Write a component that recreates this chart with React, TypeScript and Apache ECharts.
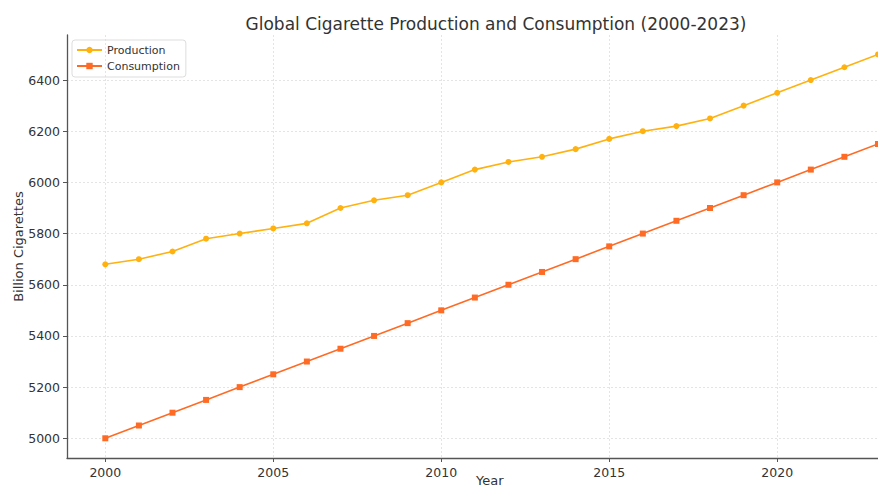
import React, { useEffect, useRef } from "react";
import * as echarts from "echarts";

const years = [2000, 2001, 2002, 2003, 2004, 2005, 2006, 2007, 2008, 2009, 2010, 2011, 2012, 2013, 2014, 2015, 2016, 2017, 2018, 2019, 2020, 2021, 2022, 2023];
const production = [5680, 5700, 5730, 5780, 5800, 5820, 5840, 5900, 5930, 5950, 6000, 6050, 6080, 6100, 6130, 6170, 6200, 6220, 6250, 6300, 6350, 6400, 6450, 6500];
const consumption = [5000, 5050, 5100, 5150, 5200, 5250, 5300, 5350, 5400, 5450, 5500, 5550, 5600, 5650, 5700, 5750, 5800, 5850, 5900, 5950, 6000, 6050, 6100, 6150];
const xTicks = [2000, 2005, 2010, 2015, 2020];
const yTicks = [5000, 5200, 5400, 5600, 5800, 6000, 6200, 6400];

const FONT = "DejaVu Sans";

export default function App() {
  const ref = useRef<HTMLDivElement>(null);
  useEffect(() => {
    document.body.style.margin = "0";
    const chart = echarts.init(ref.current!, null, { renderer: "svg" });
    chart.setOption({
      animation: false,
      textStyle: { fontFamily: FONT },
      title: {
        text: "Global Cigarette Production and Consumption (2000-2023)",
        left: 491,
        top: 10,
        textAlign: "center",
        textStyle: { fontFamily: FONT, fontSize: 17, fontWeight: "normal", color: "#333" },
      },
      legend: {
        left: 72,
        top: 40,
        orient: "vertical",
        itemGap: 4,
        itemWidth: 25,
        itemHeight: 8,
        padding: [4, 6, 5, 4],
        borderColor: "#dddddd",
        borderWidth: 1,
        borderRadius: 3,
        textStyle: { fontFamily: FONT, fontSize: 11, color: "#333", lineHeight: 12 },
        data: ["Production", "Consumption"],
      },
      graphic: [
        {
          type: "text",
          left: 491 - 15,
          top: 474,
          style: { text: "Year", font: `13px "${FONT}"`, fill: "#333" },
        },
      ],
      grid: { left: 67, right: 0, top: 35, bottom: 30, containLabel: false, outerBoundsMode: "none" },
      xAxis: {
        type: "value",
        min: 1998.86,
        max: 2023,
        axisLine: { lineStyle: { color: "#555", width: 1.3 } },
        axisTick: { customValues: xTicks, length: 4, lineStyle: { color: "#555" } },
        axisLabel: {
          customValues: xTicks,
          fontFamily: FONT,
          fontSize: 12.5,
          color: "#333",
          margin: 8,
          formatter: (v: number) => String(Math.round(v)),
        },
        splitLine: { show: true, lineStyle: { color: "#dddddd", type: [2, 2], width: 0.8 } },
      },
      yAxis: {
        type: "value",
        min: 4923,
        max: 6576,
        name: "Billion Cigarettes",
        nameLocation: "middle",
        nameGap: 42,
        nameMoveOverlap: false,
        nameTextStyle: { fontFamily: FONT, fontSize: 13, color: "#333" },
        axisLine: { show: true, lineStyle: { color: "#555", width: 1.3 } },
        axisTick: { show: true, customValues: yTicks, length: 4, lineStyle: { color: "#555" } },
        axisLabel: {
          customValues: yTicks,
          fontFamily: FONT,
          fontSize: 12.5,
          color: "#333",
          margin: 7,
          formatter: (v: number) => String(Math.round(v)),
        },
        splitLine: { show: true, lineStyle: { color: "#dddddd", type: [2, 2], width: 0.8 } },
      },
      series: [
        {
          name: "Production",
          type: "line",
          data: years.map((y, i) => [y, production[i]]),
          symbol: "circle",
          symbolSize: 6,
          color: "#FFB10F",
          lineStyle: { width: 1.6 },
        },
        {
          name: "Consumption",
          type: "line",
          data: years.map((y, i) => [y, consumption[i]]),
          symbol: "rect",
          symbolSize: 6,
          color: "#FF6B24",
          lineStyle: { width: 1.6 },
        },
      ],
    });
    return () => chart.dispose();
  }, []);
  return <div ref={ref} style={{ width: 878, height: 488 }} />;
}
